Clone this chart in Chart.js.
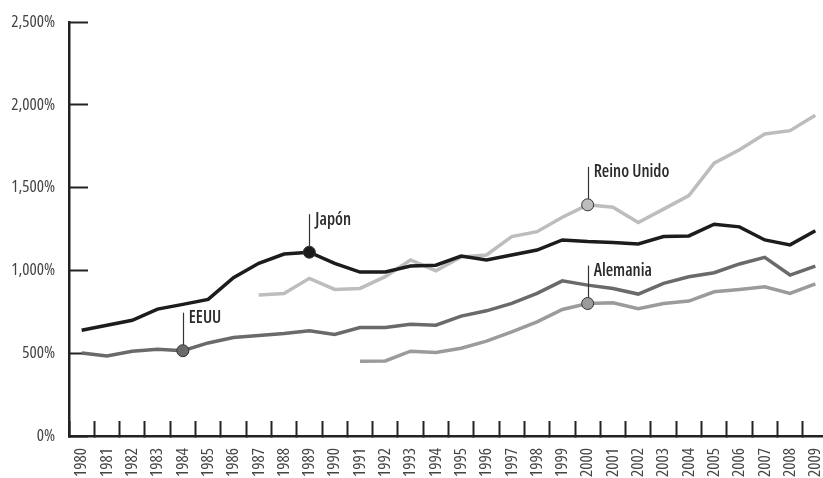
<!DOCTYPE html>
<html>
<head>
<meta charset="utf-8">
<script src="https://cdn.jsdelivr.net/npm/chart.js@4.4.0/dist/chart.umd.min.js"></script>
<style>
  html, body { margin: 0; padding: 0; background: #fff; overflow: hidden; }
  #wrap { width: 828px; height: 478px; }
</style>
</head>
<body>
<div id="wrap"><canvas id="debtChart"></canvas></div>
<script>
const years = ['1980','1981','1982','1983','1984','1985','1986','1987','1988','1989',
  '1990','1991','1992','1993','1994','1995','1996','1997','1998','1999',
  '2000','2001','2002','2003','2004','2005','2006','2007','2008','2009'];

const japon = [639, 669, 699, 766, 795, 825, 956, 1043, 1099, 1110,
  1043, 990, 990, 1026, 1031, 1087, 1063, 1093, 1123, 1184,
  1174, 1168, 1160, 1204, 1208, 1279, 1263, 1184, 1154, 1240];

const eeuu = [501, 483, 512, 524, 515, 562, 595, 607, 619, 635,
  613, 655, 655, 675, 669, 724, 756, 801, 861, 937,
  911, 891, 857, 922, 962, 986, 1039, 1079, 972, 1026];

const reinoUnido = [null, null, null, null, null, null, null, 851, 861, 952,
  885, 891, 962, 1063, 998, 1081, 1093, 1204, 1234, 1321,
  1396, 1382, 1289, 1370, 1452, 1648, 1729, 1824, 1844, 1937];

const alemania = [null, null, null, null, null, null, null, null, null, null,
  null, 451, 453, 512, 504, 530, 573, 629, 689, 764,
  800, 804, 768, 800, 815, 871, 885, 901, 861, 918];

const yTicks = [0, 500, 1000, 1500, 2000, 2500];

// which point of each series carries the name
const seriesNames = ['Japón', 'EEUU', 'Reino Unido', 'Alemania'];
const labelYears = ['1989', '1984', '2000', '2000'];

// Open Sans is variable, "condensed" picks the narrow width
const FONT = '"Open Sans", "DejaVu Sans Condensed", sans-serif';

function markerRadius(year) {
  const idx = years.indexOf(year);
  return ctx => (ctx.dataIndex === idx ? 6 : 0);
}

// leader line + name above the marked point
const seriesLabels = {
  id: 'seriesLabels',
  afterDatasetsDraw(chart) {
    const c = chart.ctx;
    c.save();
    chart.data.datasets.forEach((ds, i) => {
      const idx = years.indexOf(labelYears[i]);
      const pt = chart.getDatasetMeta(i).data[idx];
      if (!pt) return;
      const top = pt.y - 38;
      c.strokeStyle = '#333';
      c.lineWidth = 1.2;
      c.beginPath();
      c.moveTo(Math.round(pt.x) + 0.5, pt.y - 6);
      c.lineTo(Math.round(pt.x) + 0.5, top);
      c.stroke();
      c.fillStyle = '#2b2b2b';
      c.font = '600 condensed 17px ' + FONT;
      c.textBaseline = 'top';
      c.textAlign = 'left';
      c.fillText(seriesNames[i], pt.x + 6, top - 3);
    });
    c.restore();
  }
};

function line(name, data, color, year) {
  return {
    label: name,
    data,
    borderColor: color,
    backgroundColor: color,
    borderWidth: 3.5,
    tension: 0,
    pointRadius: markerRadius(year),
    pointHoverRadius: markerRadius(year),
    pointBackgroundColor: color,
    pointBorderColor: '#333',
    pointBorderWidth: 1
  };
}

const tickFont = { family: FONT, size: 17, weight: '400 condensed' };

const ctx = document.getElementById('debtChart').getContext('2d');
new Chart(ctx, {
  type: 'line',
  data: {
    labels: years,
    datasets: [
      line('Japón', japon, '#1c1c1c', labelYears[0]),
      line('EEUU', eeuu, '#6a6a6a', labelYears[1]),
      line('Reino Unido', reinoUnido, '#bdbdbd', labelYears[2]),
      line('Alemania', alemania, '#9b9b9b', labelYears[3])
    ]
  },
  options: {
    responsive: true,
    maintainAspectRatio: false,
    animation: false,
    layout: { padding: { top: 22, right: 0, left: 0, bottom: 0 } },
    plugins: {
      legend: { display: false },
      tooltip: { enabled: false }
    },
    scales: {
      x: {
        offset: true,
        grid: {
          offset: true,
          drawOnChartArea: false,
          drawTicks: true,
          tickLength: -15,
          tickWidth: 2,
          tickColor: '#222'
        },
        border: { color: '#222', width: 2.5 },
        ticks: {
          autoSkip: false,
          minRotation: 90,
          maxRotation: 90,
          padding: 27,
          color: '#444',
          font: tickFont
        },
        afterFit: s => { s.height = 42; s.paddingLeft = 0; s.paddingRight = 0; }
      },
      y: {
        min: 0,
        max: 2500,
        afterBuildTicks: s => { s.ticks = yTicks.map(v => ({ value: v })); },
        grid: {
          drawOnChartArea: false,
          drawTicks: true,
          tickLength: -19,
          tickWidth: 2,
          tickColor: '#222'
        },
        border: { color: '#222', width: 2.5 },
        ticks: {
          padding: 33,
          color: '#444',
          font: tickFont,
          callback: v => v.toLocaleString('en-US') + '%'
        },
        afterFit: s => { s.width = 69; s.paddingTop = 0; s.paddingBottom = 0; }
      }
    }
  },
  plugins: [seriesLabels]
});
</script>
</body>
</html>
